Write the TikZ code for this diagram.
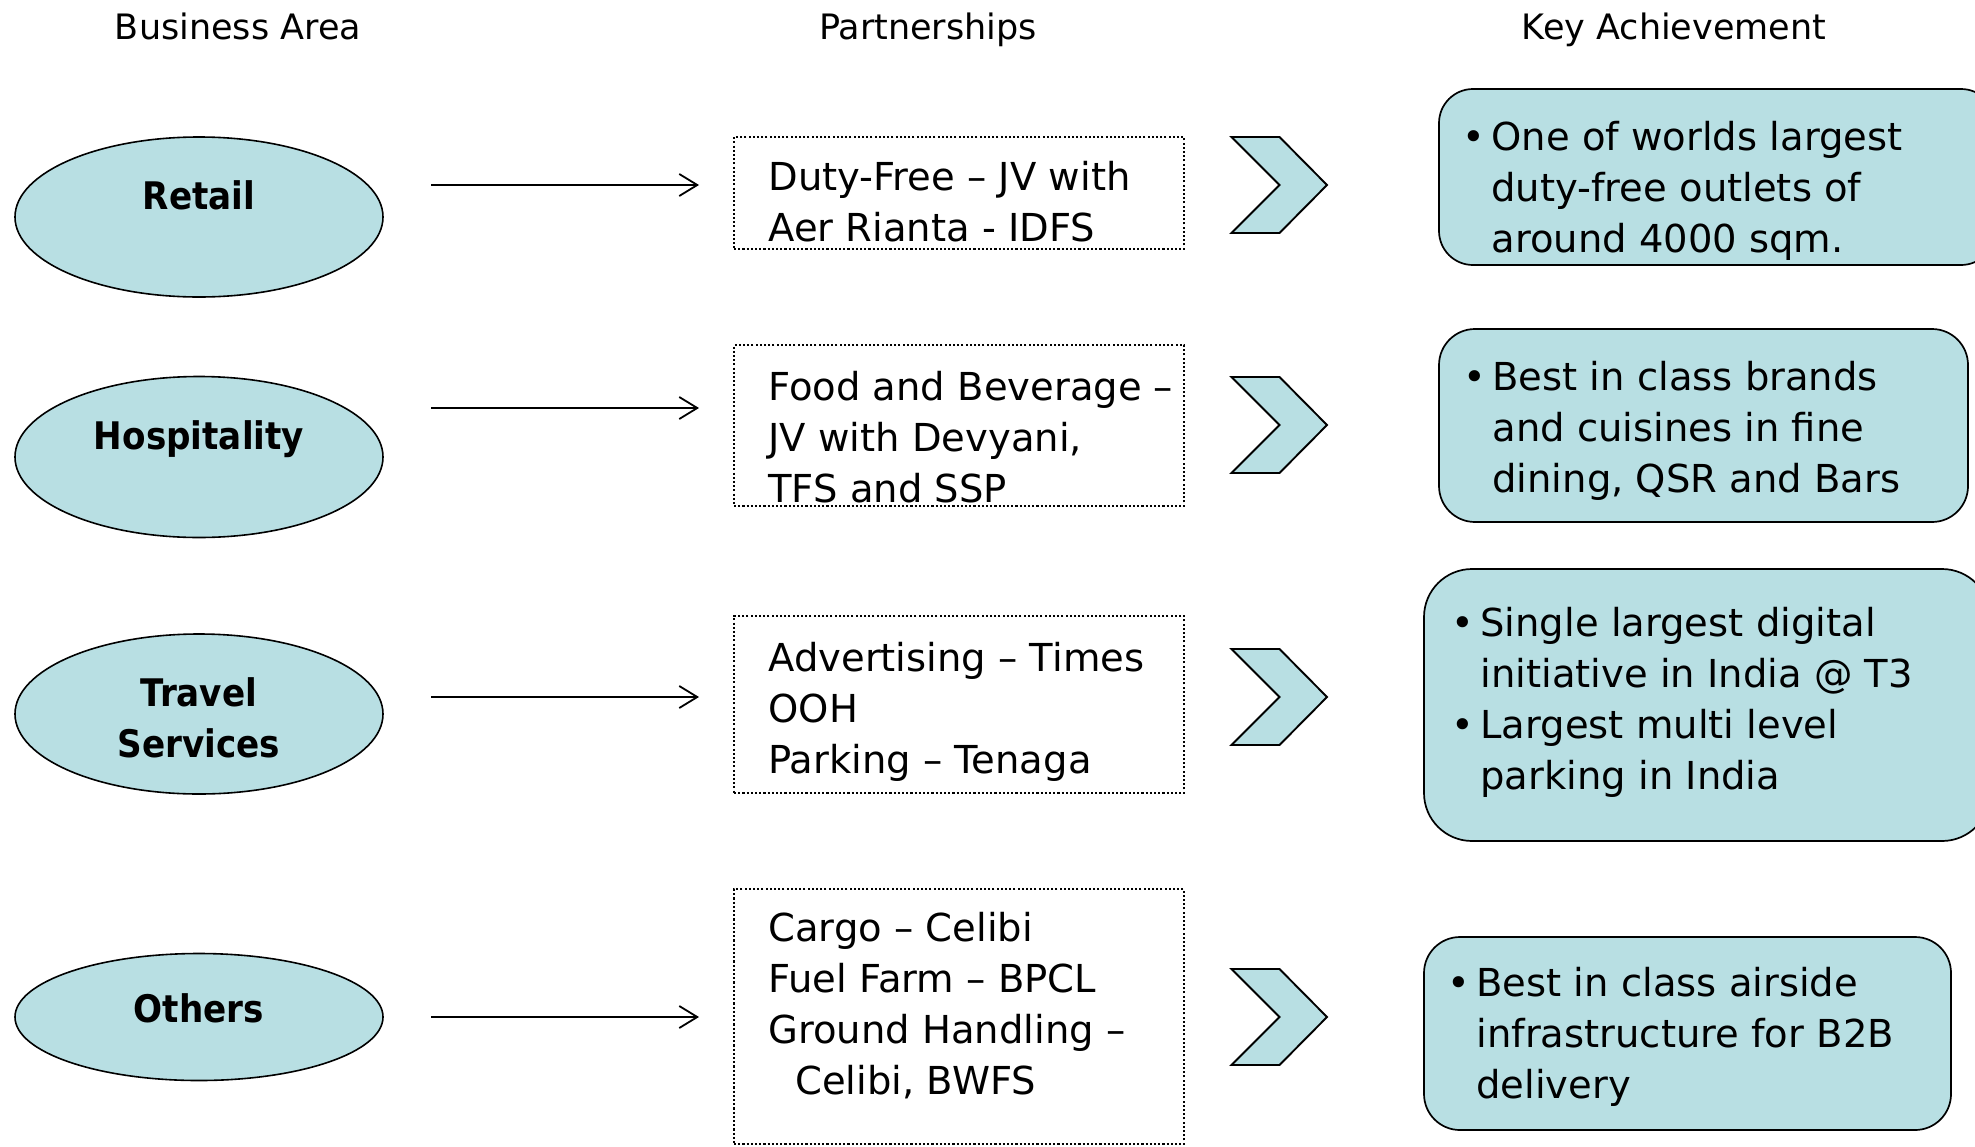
\documentclass[tikz,border=0pt]{standalone}
\usepackage{fontspec}
\setmainfont{DejaVu Sans}
\newfontfamily\condfont{DejaVu Sans Condensed}
\usetikzlibrary{arrows.meta,shapes.geometric}
\definecolor{tealfill}{RGB}{184,223,227}
\begin{document}
\begin{tikzpicture}[x=0.5pt,y=-0.5pt,
  txt/.style={font=\fontsize{19.25pt}{25.6pt}\selectfont,inner sep=0pt,align=left,anchor=base west},
  lbl/.style={font=\condfont\bfseries\fontsize{19pt}{25.6pt}\selectfont,inner sep=0pt,align=center,anchor=base},
  hdr/.style={font=\fontsize{17.5pt}{21pt}\selectfont,inner sep=0pt,anchor=base},
  area/.style={ellipse,draw=black,line width=0.8pt,fill=tealfill,minimum width=184pt,inner sep=0pt},
  partbox/.style={rectangle,draw=black,line width=1.15pt,dash pattern=on 1.05pt off 1.05pt,minimum width=225pt,inner sep=0pt},
  achbox/.style={rectangle,draw=black,line width=0.85pt,fill=tealfill,inner sep=0pt},
  chev/.style={draw=black,line width=0.95pt,fill=tealfill,line join=miter},
  conn/.style={line width=0.9pt,-{Straight Barb[length=9pt,width=11pt]}}]
\clip (0,0) rectangle (1975,1146);
\fill[white] (0,0) rectangle (1975,1146);

% headers
\node[hdr] (h1) at (238,39) {Business Area};
\node[hdr] (h2) at (928,39) {Partnerships};
\node[hdr] (h3) at (1674,39) {Key Achievement};

% business areas
\node[area,minimum height=80pt] (retail) at (199,217) {};
\node[area,minimum height=80.5pt] (hosp) at (199,457) {};
\node[area,minimum height=80pt] (travel) at (199,714) {};
\node[area,minimum height=63.5pt] (others) at (199,1017) {};
\node[lbl] (retailL) at (199,209) {Retail};
\node[lbl] (hospL) at (199,449) {Hospitality};
\node[lbl] (travelL) at (199,757.2) {Travel\\Services};
\node[lbl] (othersL) at (199,1022) {Others};

% partnership boxes
\node[partbox,minimum height=56pt] (p1) at (959,193) {};
\node[partbox,minimum height=80.5pt] (p2) at (959,425.5) {};
\node[partbox,minimum height=88.5pt] (p3) at (959,704.5) {};
\node[partbox,minimum height=127.5pt] (p4) at (959,1016.5) {};
\node[txt] (p1t) at (768,241.2) {Duty-Free – JV with\\Aer Rianta - IDFS};
\node[txt] (p2t) at (768,502.4) {Food and Beverage –\\JV with Devyani,\\TFS and SSP};
\node[txt] (p3t) at (768,773.4) {Advertising – Times\\OOH\\Parking – Tenaga};
\node[txt] (p4t) at (768,1094.6) {Cargo – Celibi\\Fuel Farm – BPCL\\Ground Handling –\\\hspace*{13.5pt}Celibi, BWFS};

% connectors
\coordinate (a1s) at (431,185); \coordinate (a1e) at (699,185);
\coordinate (a2s) at (431,408); \coordinate (a2e) at (699,408);
\coordinate (a3s) at (431,697); \coordinate (a3e) at (699,697);
\coordinate (a4s) at (431,1017); \coordinate (a4e) at (699,1017);
\draw[conn] (a1s) -- (a1e);
\draw[conn] (a2s) -- (a2e);
\draw[conn] (a3s) -- (a3e);
\draw[conn] (a4s) -- (a4e);

% chevrons
\foreach \cy in {185,425,697,1017}{
  \draw[chev,shift={(1279,\cy)}] (-47.5,-48) -- (0.5,-48) -- (48,0) -- (0.5,48) -- (-47.5,48) -- (0.5,0) -- cycle;
}

% achievement boxes
\node[achbox,rounded corners=17pt,minimum width=278pt,minimum height=88pt] (k1) at (1717,177) {};
\node[achbox,rounded corners=18pt,minimum width=264.5pt,minimum height=96.5pt] (k2) at (1703.5,425.5) {};
\node[achbox,rounded corners=24pt,minimum width=283pt,minimum height=136pt] (k3) at (1707,705) {};
\node[achbox,rounded corners=18pt,minimum width=263.5pt,minimum height=96.5pt] (k4) at (1687.5,1033.5) {};
\node[txt] (k1t) at (1491,252.4) {\llap{•\hspace{3pt}}One of worlds largest\\duty-free outlets of\\around 4000 sqm.};
\node[txt] (k2t) at (1492,492.9) {\llap{•\hspace{3pt}}Best in class brands\\and cuisines in fine\\dining, QSR and Bars};
\node[txt] (k3t) at (1480,789.6) {\llap{•\hspace{3pt}}Single largest digital\\initiative in India @ T3\\\llap{•\hspace{3pt}}Largest multi level\\parking in India};
\node[txt] (k4t) at (1476,1098.9) {\llap{•\hspace{3pt}}Best in class airside\\infrastructure for B2B\\delivery};
\end{tikzpicture}
\end{document}
